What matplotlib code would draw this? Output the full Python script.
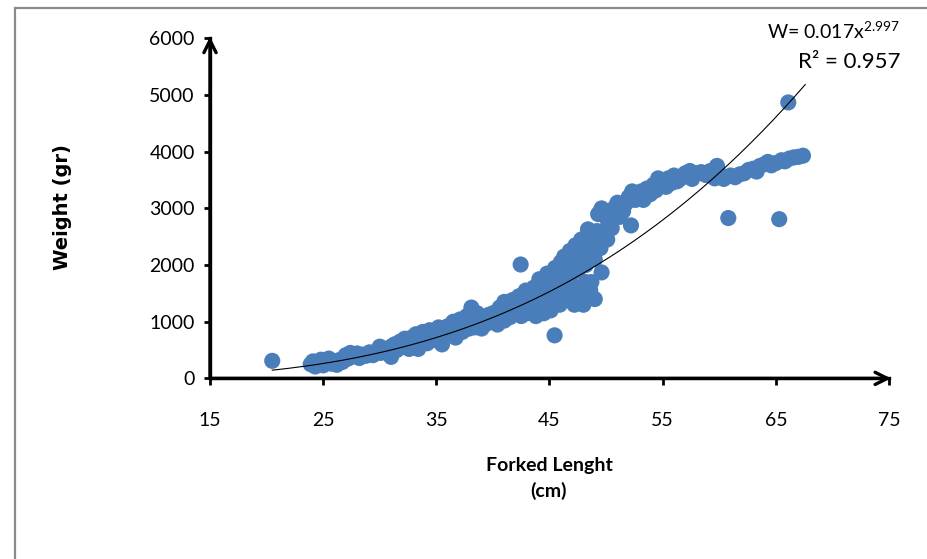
import numpy as np
import matplotlib
matplotlib.use("Agg")
from matplotlib import pyplot as plt
from matplotlib.patches import Rectangle

plt.rcParams['font.family'] = ['Lato', 'DejaVu Sans']
plt.rcParams['mathtext.fontset'] = 'custom'
plt.rcParams['mathtext.rm'] = 'Lato'

# forked length (cm) and weight (gr)
length_cm = [
    20.5,
    23.9, 24.1, 24.3, 24.6, 24.8, 25.0, 25.2, 25.5, 25.7, 26.0, 26.2, 26.5, 26.7,
    27.0, 27.2, 27.4, 27.7, 28.0, 28.2, 28.5, 28.8, 29.1, 29.4, 29.7, 30.0, 30.1,
    30.4, 30.7, 31.0, 31.0,
    31.3, 31.5, 31.8, 32.0, 32.2, 32.4, 32.6, 32.8, 33.0, 33.2, 33.4, 33.5, 33.8,
    34.0, 34.2, 34.4, 34.6, 34.8, 35.0, 35.2, 35.4, 35.5, 35.7, 36.0, 36.0,
    36.3, 36.5, 36.7, 36.9, 37.1, 37.3, 37.5, 37.7, 37.9, 38.1, 38.2, 38.4, 38.6,
    38.8, 39.0, 39.2, 39.4, 39.6, 39.8, 40.0, 40.2, 40.4, 40.6, 40.8, 41.0, 41.0,
    41.3, 41.5, 41.7, 41.9,
    42.1, 42.3, 42.45, 42.5, 42.7, 42.9, 43.0, 43.2, 43.4, 43.6, 43.8, 44.0, 44.1,
    44.3, 44.5, 44.6, 44.8, 45.0, 45.1, 45.3, 45.45, 45.5, 45.7, 45.9, 46.0, 46.1,
    46.3, 46.5, 46.6, 46.8, 47.0, 47.0, 47.2, 47.3, 47.5, 47.6, 47.8, 48.0, 48.0,
    48.2, 48.4, 48.4, 48.6, 48.7, 48.8, 49.0, 49.0, 49.2, 49.3, 49.5, 49.6, 49.6,
    49.8, 50.0, 50.1, 50.3, 50.5,
    50.7, 51.0, 51.2, 51.5, 51.6, 52.0, 52.2, 52.3, 52.6, 52.9, 53.1, 53.3, 53.6,
    53.9, 54.2, 54.4, 54.6, 54.8, 55.0, 55.3, 55.5, 55.8, 56.0, 56.3, 56.6, 57.0,
    57.4, 57.6, 58.0, 58.4, 58.8, 59.2, 59.6, 59.8, 60.0,
    60.4, 60.8, 61.0, 61.4, 61.8, 62.2, 62.6, 63.0, 63.3, 63.6, 64.0, 64.3, 64.6,
    65.0, 65.3, 65.5, 65.8, 66.1, 66.2, 66.6, 67.0, 67.4,
    # extra fish filling the thicker middle of the cloud
    33.0, 34.5, 36.2, 37.0, 38.0, 39.5, 40.5, 41.5, 42.8, 43.5, 44.2, 45.2,
    46.2, 46.8, 47.4, 48.2, 48.9, 49.4, 50.2, 51.8, 47.9, 46.4,
]
weight_gr = [
    310,
    250, 300, 210, 270, 330, 230, 290, 350, 260, 300, 240, 330, 290,
    410, 350, 450, 390, 440, 360, 420, 400, 460, 410, 470, 560, 450,
    520, 470, 380, 560,
    600, 500, 650, 560, 700, 620, 520, 720, 650, 780, 520, 700, 820,
    740, 620, 850, 760, 680, 820, 900, 740, 600, 840, 780, 920,
    860, 1000, 720, 900, 1040, 820, 960, 1100, 880, 1250, 1050, 900, 1150,
    1000, 880, 1080, 960, 1120, 1000, 1150, 1050, 950, 1250, 1120, 1350, 1020,
    1200, 1080, 1380, 1150,
    1250, 1450, 2010, 1100, 1320, 1550, 1150, 1400, 1250, 1600, 1100, 1450, 1750,
    1300, 1150, 1600, 1850, 1400, 1200, 1700, 760, 1950, 1500, 1300, 2050, 1750,
    2150, 1900, 1450, 2250, 1650, 2050, 1300, 2350, 1900, 1500, 2450, 2150, 1300,
    1700, 2630, 2300, 1550, 1700, 2450, 2100, 1400, 2600, 2900, 2300, 1870, 3000,
    2550, 2850, 2450, 2950, 2650,
    3000, 3100, 2850, 2950, 3050, 3200, 2700, 3300, 3150, 3250, 3300, 3150, 3350,
    3250, 3420, 3320, 3530, 3400, 3480, 3380, 3530, 3450, 3580, 3480, 3530, 3620,
    3660, 3520, 3620, 3640, 3590, 3660, 3530, 3750, 3610,
    3520, 2830, 3580, 3550, 3600, 3620, 3680, 3700, 3650, 3750, 3780, 3820, 3760,
    3800, 2810, 3850, 3830, 4870, 3880, 3900, 3910, 3930,
    580, 700, 800, 900, 1000, 1050, 1150, 1250, 1450, 1300, 1600, 1600,
    1850, 1900, 2100, 2000, 2300, 2450, 2750, 3100, 1600, 1600,
]

# fitted power curve W = a * L^b
coef_a = 0.017
coef_b = 2.997
fit_range = (20.5, 67.6)

x_ticks = [15, 25, 35, 45, 55, 65, 75]
y_ticks = [0, 1000, 2000, 3000, 4000, 5000, 6000]

fig = plt.figure(figsize=(9.28, 5.59), dpi=100)
ax = fig.add_axes([210 / 928, 1 - 378.4 / 559, 679 / 928, 340 / 559])

ax.scatter(length_cm, weight_gr, s=135, color='#4a7ebb', edgecolors='none', zorder=2)

xs = np.linspace(fit_range[0], fit_range[1], 200)
ax.plot(xs, coef_a * xs ** coef_b, color='black', lw=0.8, zorder=3)

ax.set_xlim(15, 75)
ax.set_ylim(0, 6000)
ax.set_xticks(x_ticks)
ax.set_yticks(y_ticks)
ax.tick_params(axis='x', direction='out', length=5, width=2, pad=19, labelsize=14)
ax.tick_params(axis='y', direction='out', length=4, width=2, pad=7, labelsize=14)

for side in ('top', 'right'):
    ax.spines[side].set_visible(False)
for side in ('left', 'bottom'):
    ax.spines[side].set_linewidth(2.4)

# arrow heads on the axes (shaft drawn over the full spine)
arrow = dict(arrowstyle='->', lw=2.4, mutation_scale=22, color='black', shrinkA=0, shrinkB=0)
ax.annotate('', xy=(1.003, 0), xytext=(0, 0), xycoords='axes fraction',
            arrowprops=arrow, annotation_clip=False)
ax.annotate('', xy=(0, 1.005), xytext=(0, 0), xycoords='axes fraction',
            arrowprops=arrow, annotation_clip=False)

fig.text(63 / 928, 1 - 207 / 559, 'Weight (gr)', rotation=90, ha='center', va='center',
         fontsize=14, fontweight='bold', family=['DejaVu Sans'])
fig.text(549 / 928, 1 - 466 / 559, 'Forked Lenght', ha='center', va='center',
         fontsize=14, fontweight='bold')
fig.text(549 / 928, 1 - 491 / 559, '(cm)', ha='center', va='center',
         fontsize=14, fontweight='bold')

fig.text(900 / 928, 1 - 31 / 559, 'W= 0.017x$^{2.997}$', ha='right', va='center', fontsize=14)
fig.text(901 / 928, 1 - 62 / 559, 'R\u00b2 = 0.957', ha='right', va='center', fontsize=16)

# page frame
fig.patches.append(Rectangle((15 / 928, -0.1), 1.2, 1.1 - 8 / 559, transform=fig.transFigure,
                             fill=False, edgecolor='#8a8a8a', lw=1.6))

fig.savefig('out.png', dpi=100)
